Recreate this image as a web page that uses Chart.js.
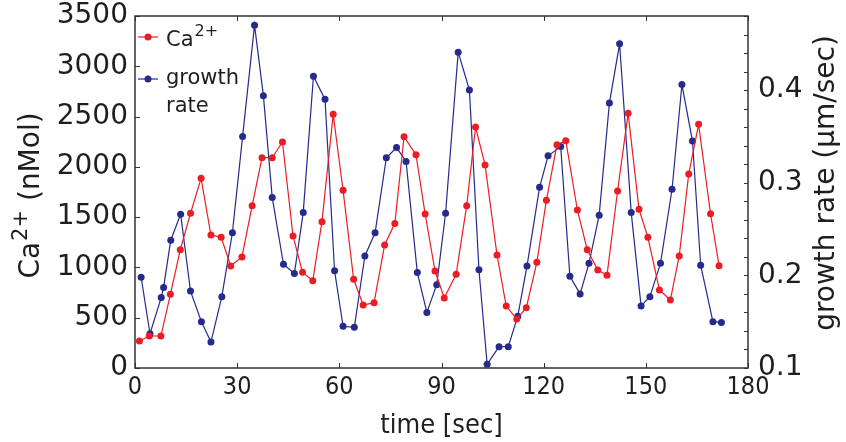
<!DOCTYPE html>
<html>
<head>
<meta charset="utf-8">
<script src="https://cdn.jsdelivr.net/npm/chart.js@4.4.0/dist/chart.umd.min.js"></script>
<style>
html,body{margin:0;padding:0;background:#fff;}
canvas{display:block;}
</style>
</head>
<body>
<canvas id="c" width="846" height="442"></canvas>
<script>
// Ca2+ concentration (nMol) vs time (sec)
const caTime = [1.3,4.2,7.6,10.4,13.3,16.3,19.4,22.3,25.3,28.1,31.4,34.4,37.3,40.3,43.3,46.4,49.2,52.2,54.9,58.2,61.1,64.2,67.0,70.2,73.3,76.3,79.0,82.5,85.2,88.1,90.8,94.3,97.4,100.0,102.8,106.3,109.0,112.1,114.9,118.0,120.8,123.9,126.5,129.9,132.8,135.9,138.6,141.7,144.8,148.0,150.6,154.0,157.2,159.8,162.6,165.5,169.0,171.5];
const caValues = [268,318,318,733,1176,1538,1886,1322,1299,1014,1104,1614,2091,2091,2247,1313,951,868,1455,2522,1767,882,626,650,1223,1438,2300,2121,1531,964,696,932,1614,2396,2018,1124,616,487,600,1051,1667,2221,2260,1571,1176,974,921,1760,2532,1578,1299,776,676,1114,1929,2423,1534,1017];
// growth rate (µm/sec) vs time (sec)
const grTime = [1.8,4.4,7.7,8.4,10.5,13.4,16.3,19.5,22.3,25.5,28.6,31.6,35.1,37.7,40.3,43.6,46.8,49.4,52.4,55.8,58.6,61.1,64.4,67.5,70.5,73.8,76.8,79.6,82.9,85.7,88.6,91.2,94.9,98.2,101.0,103.4,106.9,109.6,112.4,115.1,118.8,121.3,125.0,127.7,130.7,133.3,136.3,139.3,142.3,145.7,148.6,151.2,154.3,157.7,160.6,163.7,166.1,169.7,172.2];
const grValues = [0.198,0.137,0.176,0.187,0.238,0.266,0.183,0.150,0.128,0.177,0.246,0.350,0.470,0.394,0.284,0.212,0.202,0.268,0.415,0.390,0.205,0.145,0.144,0.221,0.246,0.327,0.338,0.323,0.203,0.160,0.190,0.267,0.441,0.400,0.206,0.104,0.123,0.123,0.156,0.210,0.295,0.329,0.339,0.199,0.180,0.213,0.265,0.386,0.450,0.268,0.167,0.177,0.213,0.293,0.406,0.345,0.211,0.150,0.149];

const xLabel = 'time [sec]';
const yLabelMain = 'Ca';
const yLabelSup = '2+';
const yLabelRest = ' (nMol)';
const y2Label = 'growth rate (\u00b5m/sec)';
const legendCa = ['Ca', '2+'];
const legendGr = ['growth', 'rate'];

const RED = '#ec1c24';
const BLUE = '#262a8c';
const AXIS = '#333333';
const TXT = '#1e1e1e';

const caData = caTime.map((t, i) => ({x: t, y: caValues[i]}));
const grData = grTime.map((t, i) => ({x: t, y: grValues[i]}));

const frame = {
  id: 'frame',
  afterDatasetsDraw(chart) {
    const {ctx, chartArea: {left, right, top, bottom}, scales: {x, y, y1}} = chart;
    ctx.save();
    ctx.strokeStyle = AXIS;
    ctx.lineWidth = 1;
    const L = 5;
    ctx.beginPath();
    x.ticks.forEach(t => {
      const px = Math.round(x.getPixelForValue(t.value)) + 0.5;
      ctx.moveTo(px, bottom); ctx.lineTo(px, bottom - L);
      ctx.moveTo(px, top); ctx.lineTo(px, top + L);
    });
    y.ticks.forEach(t => {
      const py = Math.round(y.getPixelForValue(t.value)) + 0.5;
      ctx.moveTo(left, py); ctx.lineTo(left + L, py);
    });
    y1.ticks.forEach(t => {
      const py = Math.round(y1.getPixelForValue(t.value)) + 0.5;
      ctx.moveTo(right, py); ctx.lineTo(right - 4, py);
    });
    ctx.stroke();
    ctx.lineWidth = 1.5;
    ctx.strokeRect(left, top, right - left, bottom - top);

    // legend
    const drawEntry = (color, yy) => {
      ctx.strokeStyle = color; ctx.lineWidth = 1.2;
      ctx.beginPath(); ctx.moveTo(left + 3, yy); ctx.lineTo(left + 23, yy); ctx.stroke();
      ctx.fillStyle = color;
      ctx.beginPath(); ctx.arc(left + 13, yy, 3.5, 0, Math.PI * 2); ctx.fill();
    };
    drawEntry(RED, 37);
    drawEntry(BLUE, 79);
    ctx.fillStyle = TXT;
    ctx.textBaseline = 'alphabetic';
    ctx.textAlign = 'left';
    ctx.font = '21px "DejaVu Sans"';
    ctx.fillText(legendCa[0], left + 31, 46);
    const w = ctx.measureText(legendCa[0]).width;
    ctx.font = '16px "DejaVu Sans"';
    ctx.fillText(legendCa[1], left + 31 + w + 1, 36);
    ctx.font = '21px "DejaVu Sans"';
    ctx.fillText(legendGr[0], left + 31, 84);
    ctx.fillText(legendGr[1], left + 31, 112);

    // left axis title with superscript
    ctx.save();
    ctx.translate(30, 196);
    ctx.rotate(-Math.PI / 2);
    ctx.textBaseline = 'middle';
    ctx.font = '28px "DejaVu Sans"';
    const w1 = ctx.measureText(yLabelMain).width;
    const w3 = ctx.measureText(yLabelRest).width;
    ctx.font = '21px "DejaVu Sans"';
    const w2 = ctx.measureText(yLabelSup).width;
    let sx = -(w1 + w2 + w3) / 2;
    ctx.font = '28px "DejaVu Sans"';
    ctx.fillText(yLabelMain, sx, 2);
    ctx.font = '21px "DejaVu Sans"';
    ctx.fillText(yLabelSup, sx + w1 + 1, -8);
    ctx.font = '28px "DejaVu Sans"';
    ctx.fillText(yLabelRest, sx + w1 + w2 + 1, 2);
    ctx.restore();

    // right axis title (reads bottom to top)
    ctx.save();
    ctx.translate(827, 183);
    ctx.rotate(-Math.PI / 2);
    ctx.textAlign = 'center';
    ctx.textBaseline = 'middle';
    ctx.font = '28px "DejaVu Sans"';
    ctx.fillText(y2Label, 0, 0);
    ctx.restore();
    ctx.restore();
  }
};

const noPad = s => { s.paddingTop = 0; s.paddingBottom = 0; s.paddingLeft = 0; s.paddingRight = 0; };

new Chart(document.getElementById('c'), {
  type: 'line',
  data: {
    datasets: [
      {label: 'Ca2+', data: caData, yAxisID: 'y', borderColor: RED, backgroundColor: RED,
       borderWidth: 1.2, pointRadius: 3.5, pointBorderWidth: 0, tension: 0},
      {label: 'growth rate', data: grData, yAxisID: 'y1', borderColor: BLUE, backgroundColor: BLUE,
       borderWidth: 1.2, pointRadius: 3.5, pointBorderWidth: 0, tension: 0}
    ]
  },
  options: {
    responsive: false,
    devicePixelRatio: 1,
    animation: false,
    events: [],
    layout: {padding: {top: 16, left: 0, right: 0, bottom: 0}},
    plugins: {legend: {display: false}, tooltip: {enabled: false}},
    scales: {
      x: {
        type: 'linear', min: 0, max: 180,
        afterFit: s => { s.height = 74; noPad(s); },
        ticks: {stepSize: 30, color: TXT, padding: 4, maxRotation: 0,
                font: {family: "'Liberation Sans Narrow', 'DejaVu Sans Condensed', sans-serif", size: 25}},
        grid: {drawOnChartArea: false, drawTicks: false},
        border: {display: false},
        title: {display: true, text: xLabel, color: TXT, padding: {top: 0, bottom: 0},
                font: {family: "'Liberation Sans Narrow', 'DejaVu Sans Condensed', sans-serif", size: 27}}
      },
      y: {
        type: 'linear', position: 'left', min: 0, max: 3500,
        afterFit: s => { s.width = 135; noPad(s); },
        ticks: {stepSize: 500, color: TXT, padding: 7, font: {family: 'DejaVu Sans', size: 28},
                callback: v => String(v)},
        grid: {drawOnChartArea: false, drawTicks: false},
        border: {display: false}
      },
      y1: {
        type: 'linear', position: 'right', min: 0.1, max: 0.48,
        afterFit: s => { s.width = 98; noPad(s); },
        ticks: {stepSize: 0.02, autoSkip: false, color: TXT, padding: 10,
                font: {family: 'DejaVu Sans', size: 28},
                callback: v => {
                  const r = Math.round(v * 10);
                  return (Math.abs(v * 10 - r) < 1e-6 && r >= 1 && r <= 4) ? (r / 10).toFixed(1) : '';
                }},
        grid: {drawOnChartArea: false, drawTicks: false},
        border: {display: false}
      }
    }
  },
  plugins: [frame]
});
</script>
</body>
</html>
